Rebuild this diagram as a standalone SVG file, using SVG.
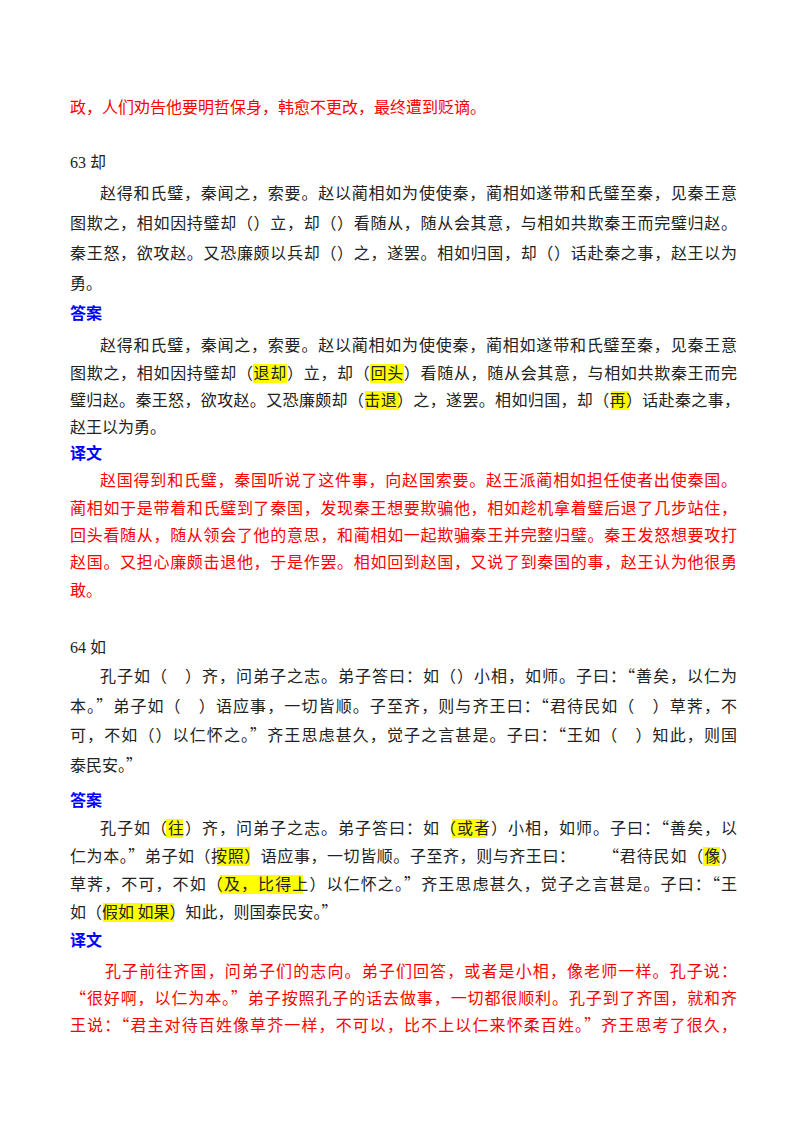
<svg xmlns="http://www.w3.org/2000/svg" width="800" height="1132" viewBox="0 0 800 1132">
<style>
text{font-family:"Noto Sans CJK SC","Liberation Serif",sans-serif;font-size:16px;fill:#222}
.n{font-family:"Liberation Serif","Noto Sans CJK SC",serif}
.r{fill:#f00}
.h{font-weight:bold;fill:#00f}
.hl{fill:#ff0}
</style>
<rect width="800" height="1132" fill="#fff"/>
<g id="highlights">
<rect class="hl" x="253" y="364" width="34" height="19"/>
<rect class="hl" x="370" y="364" width="34" height="19"/>
<rect class="hl" x="365" y="391" width="34" height="19"/>
<rect class="hl" x="611" y="391" width="18" height="19"/>
<rect class="hl" x="166" y="819" width="17" height="19"/>
<rect class="hl" x="452" y="819" width="34" height="19"/>
<rect class="hl" x="217" y="847" width="33" height="19"/>
<rect class="hl" x="703" y="847" width="17" height="19"/>
<rect class="hl" x="220" y="875" width="83" height="19"/>
<rect class="hl" x="103" y="903" width="71" height="19"/>
</g>
<text class="r" x="70" y="113">政，人们劝告他要明哲保身，韩愈不更改，最终遭到贬谪。</text>
<text class="n" x="70" y="168">63 却</text>
<text x="100" y="199" textLength="637" lengthAdjust="spacing">赵得和氏璧，秦闻之，索要。赵以蔺相如为使使秦，蔺相如遂带和氏璧至秦，见秦王意</text>
<text x="70" y="229" textLength="667" lengthAdjust="spacing">图欺之，相如因持璧却（）立，却（）看随从，随从会其意，与相如共欺秦王而完璧归赵。</text>
<text x="70" y="259" textLength="667" lengthAdjust="spacing">秦王怒，欲攻赵。又恐廉颇以兵却（）之，遂罢。相如归国，却（）话赴秦之事，赵王以为</text>
<text x="70" y="289">勇。</text>
<text class="h" x="70" y="319">答案</text>
<text x="100" y="351" textLength="637" lengthAdjust="spacing">赵得和氏璧，秦闻之，索要。赵以蔺相如为使使秦，蔺相如遂带和氏璧至秦，见秦王意</text>
<text x="70" y="379" textLength="667" lengthAdjust="spacing">图欺之，相如因持璧却（退却）立，却（回头）看随从，随从会其意，与相如共欺秦王而完</text>
<text x="70" y="406" textLength="670" lengthAdjust="spacing">璧归赵。秦王怒，欲攻赵。又恐廉颇却（击退）之，遂罢。相如归国，却（再）话赴秦之事，</text>
<text x="70" y="433">赵王以为勇。</text>
<text class="h" x="70" y="459">译文</text>
<text class="r" x="100" y="486" textLength="637" lengthAdjust="spacing">赵国得到和氏璧，秦国听说了这件事，向赵国索要。赵王派蔺相如担任使者出使秦国。</text>
<text class="r" x="70" y="514" textLength="667" lengthAdjust="spacing">蔺相如于是带着和氏璧到了秦国，发现秦王想要欺骗他，相如趁机拿着璧后退了几步站住，</text>
<text class="r" x="70" y="541" textLength="667" lengthAdjust="spacing">回头看随从，随从领会了他的意思，和蔺相如一起欺骗秦王并完整归璧。秦王发怒想要攻打</text>
<text class="r" x="70" y="568" textLength="667" lengthAdjust="spacing">赵国。又担心廉颇击退他，于是作罢。相如回到赵国，又说了到秦国的事，赵王认为他很勇</text>
<text class="r" x="70" y="596">敢。</text>
<text class="n" x="70" y="653">64 如</text>
<text x="100" y="682" textLength="637" lengthAdjust="spacing">孔子如（　）齐，问弟子之志。弟子答曰：如（）小相，如师。子曰：“善矣，以仁为</text>
<text x="70" y="712" textLength="667" lengthAdjust="spacing">本。”弟子如（　）语应事，一切皆顺。子至齐，则与齐王曰：“君待民如（　）草荠，不</text>
<text x="70" y="741" textLength="667" lengthAdjust="spacing">可，不如（）以仁怀之。”齐王思虑甚久，觉子之言甚是。子曰：“王如（　）知此，则国</text>
<text x="70" y="771">泰民安。”</text>
<text class="h" x="70" y="806">答案</text>
<text x="100" y="834" textLength="637" lengthAdjust="spacing">孔子如（往）齐，问弟子之志。弟子答曰：如（或者）小相，如师。子曰：“善矣，以</text>
<text x="70" y="862" textLength="505" lengthAdjust="spacing">仁为本。”弟子如（按照）语应事，一切皆顺。子至齐，则与齐王曰：</text>
<text x="603" y="862" textLength="134" lengthAdjust="spacing">“君待民如（像）</text>
<text x="70" y="890" textLength="667" lengthAdjust="spacing">草荠，不可，不如（及，比得上）以仁怀之。”齐王思虑甚久，觉子之言甚是。子曰：“王</text>
<text x="70" y="918">如（假如 如果）知此，则国泰民安。”</text>
<text class="h" x="70" y="946">译文</text>
<text class="r" x="105" y="977" textLength="632" lengthAdjust="spacing">孔子前往齐国，问弟子们的志向。弟子们回答，或者是小相，像老师一样。孔子说：</text>
<text class="r" x="70" y="1004" textLength="667" lengthAdjust="spacing">“很好啊，以仁为本。”弟子按照孔子的话去做事，一切都很顺利。孔子到了齐国，就和齐</text>
<text class="r" x="70" y="1031" textLength="667" lengthAdjust="spacing">王说：“君主对待百姓像草芥一样，不可以，比不上以仁来怀柔百姓。”齐王思考了很久，</text>
</svg>
